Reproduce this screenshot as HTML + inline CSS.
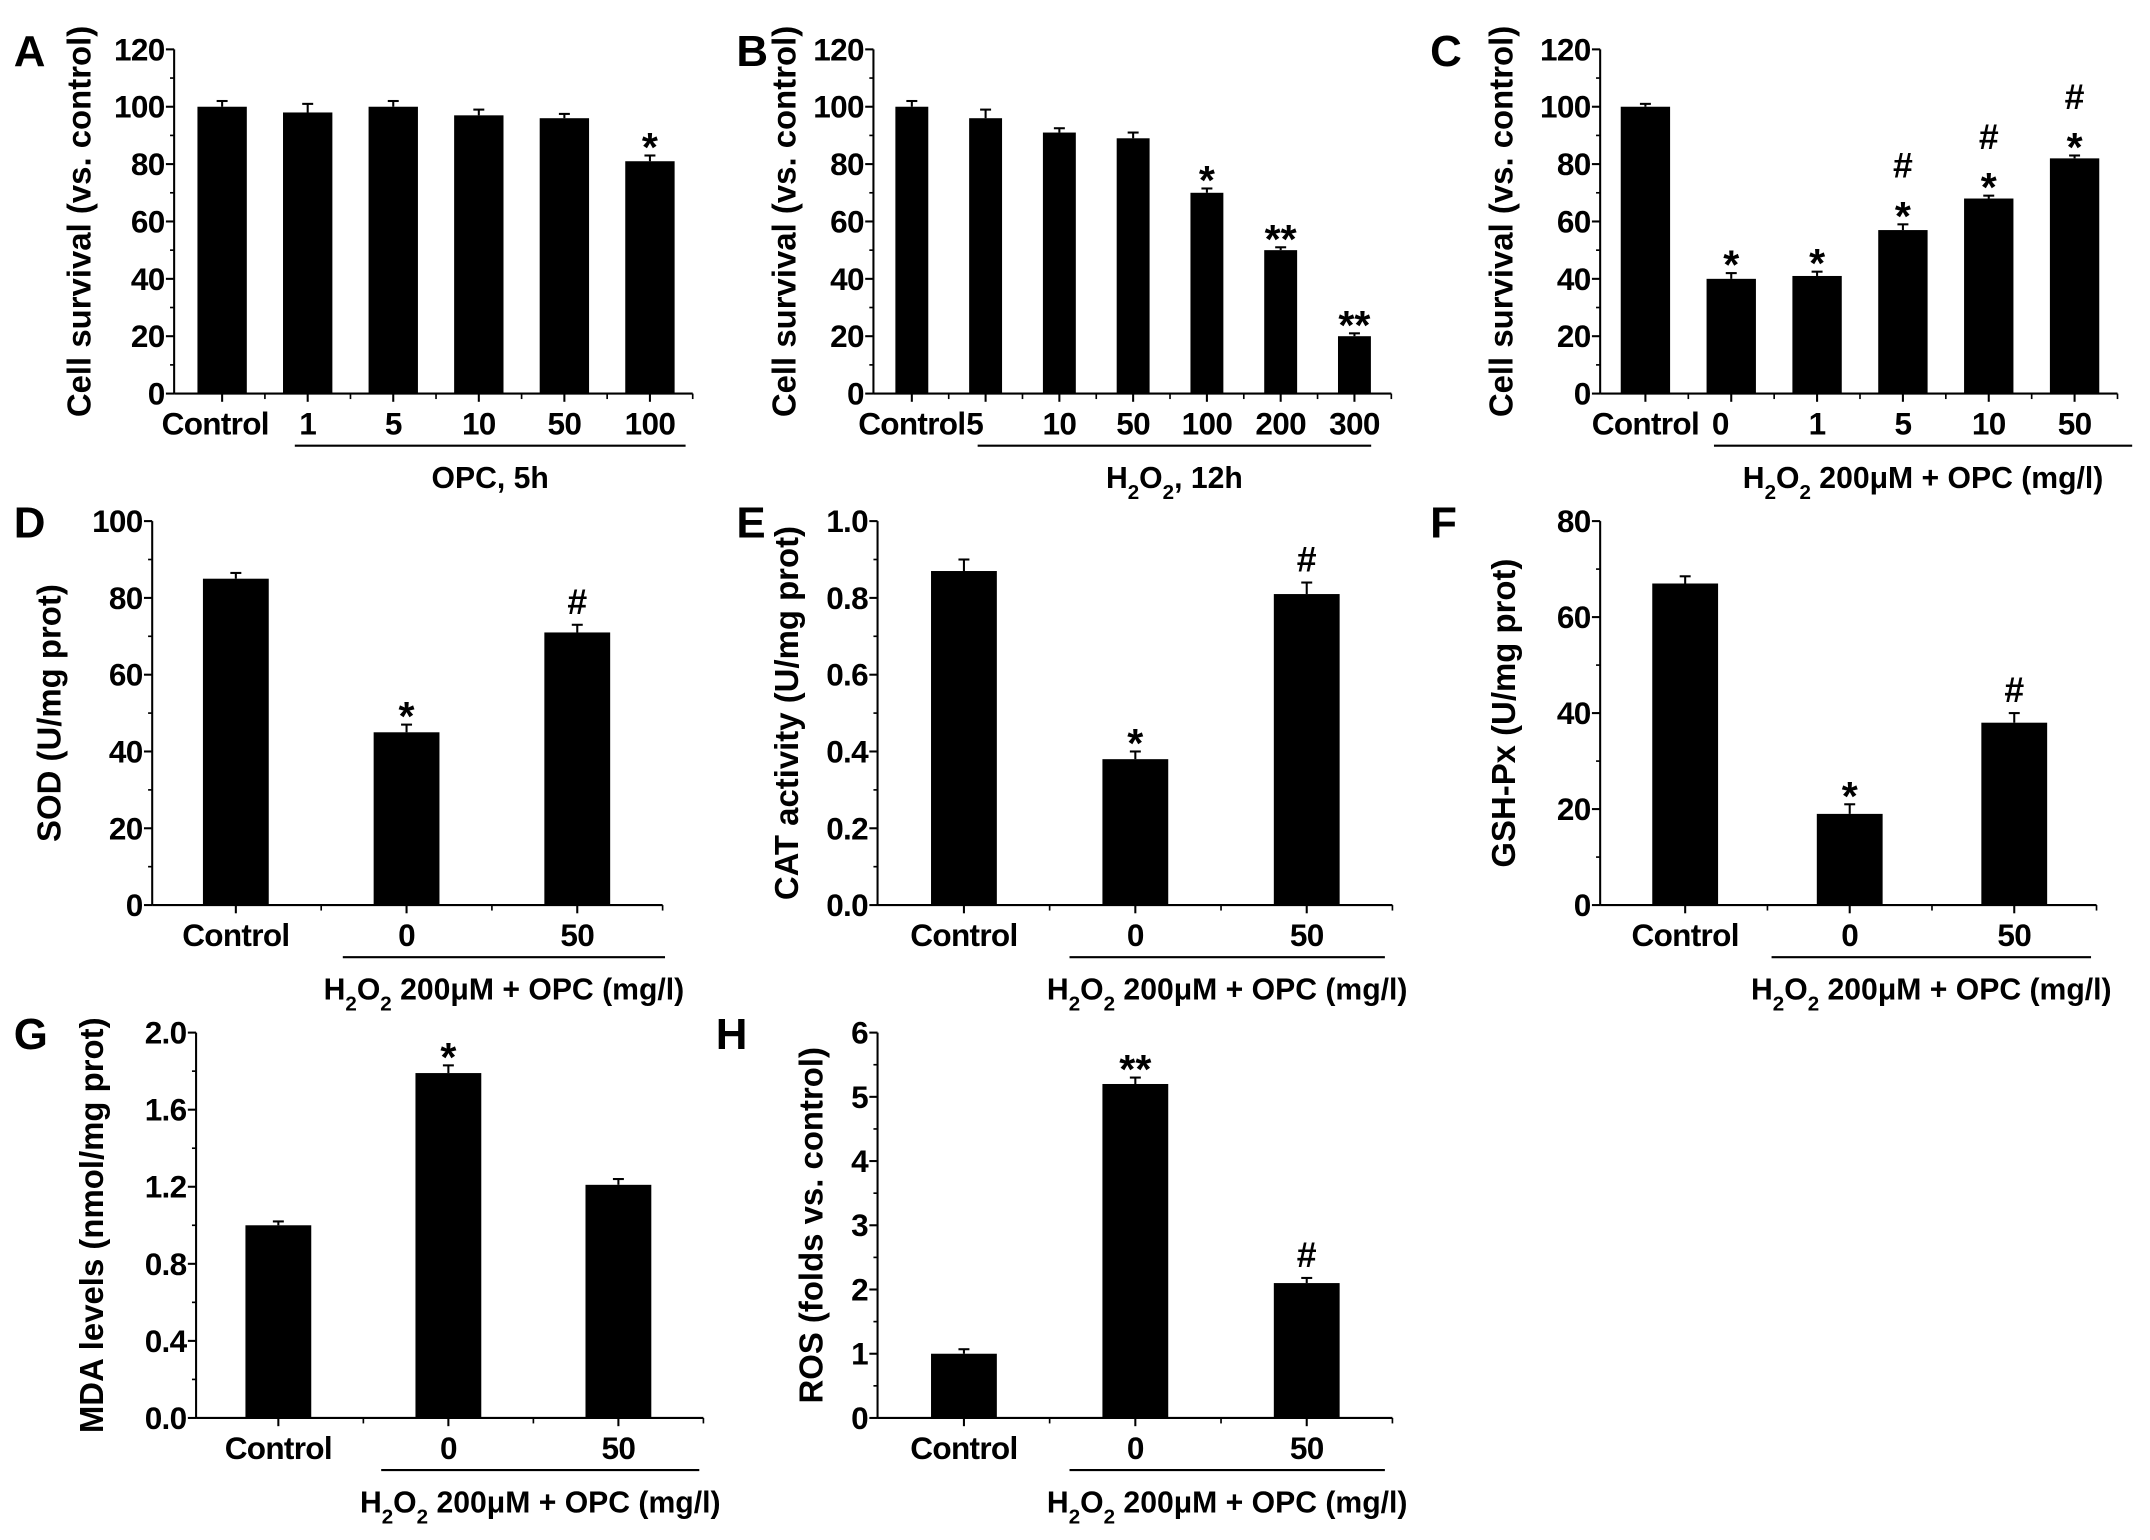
<!DOCTYPE html>
<html><head><meta charset="utf-8">
<style>
html,body{margin:0;padding:0;background:#fff;}
svg{display:block;}
text{font-family:"Liberation Sans",Arial,sans-serif;font-weight:bold;fill:#000;}
</style></head>
<body>
<svg id="fig" width="2150" height="1540" viewBox="0 0 1568 1123" preserveAspectRatio="none" xmlns="http://www.w3.org/2000/svg">
<rect x="0" y="0" width="1568" height="1123" fill="#fff"/>
</svg>
<script>
// ---- data ----
const aCats = ["Control","1","5","10","50","100"];
const aVals = [100,98,100,97,96,81];
const aErrs = [2,3,2,2,1.5,2];
const aMarks = ["","","","","","*"];
const bCats = ["Control","5","10","50","100","200","300"];
const bVals = [100,96,91,89,70,50,20];
const bErrs = [2,3,1.5,2,1.5,1,1];
const bMarks = ["","","","","*","**","**"];
const cCats = ["Control","0","1","5","10","50"];
const cVals = [100,40,41,57,68,82];
const cErrs = [1,2,1.5,2,1,1];
const cMarks = ["","*","*","#\n*","#\n*","#\n*"];
const dCats = ["Control","0","50"];
const dVals = [85,45,71];
const dErrs = [1.5,2,2];
const dMarks = ["","*","#"];
const eCats = ["Control","0","50"];
const eVals = [0.87,0.38,0.81];
const eErrs = [0.03,0.02,0.03];
const eMarks = ["","*","#"];
const fCats = ["Control","0","50"];
const fVals = [67,19,38];
const fErrs = [1.5,2,2];
const fMarks = ["","*","#"];
const gCats = ["Control","0","50"];
const gVals = [1.0,1.79,1.21];
const gErrs = [0.02,0.04,0.03];
const gMarks = ["","*",""];
const hCats = ["Control","0","50"];
const hVals = [1.0,5.2,2.1];
const hErrs = [0.07,0.1,0.08];
const hMarks = ["","**","#"];
const yTicksA = [0,20,40,60,80,100,120];
const yTicksD = [0,20,40,60,80,100];
const yTicksE = [0.0,0.2,0.4,0.6,0.8,1.0];
const yTicksF = [0,20,40,60,80];
const yTicksG = [0.0,0.4,0.8,1.2,1.6,2.0];
const yTicksH = [0,1,2,3,4,5,6];

const svg = document.getElementById('fig');
const NS = 'http://www.w3.org/2000/svg';
function mk(tag, attrs, parent){
  const e = document.createElementNS(NS, tag);
  for (const k in attrs) e.setAttribute(k, attrs[k]);
  (parent||svg).appendChild(e);
  return e;
}

function panel(p){
  const g = mk('g', {});
  
  
  const ymax = p.ticks[p.ticks.length-1];
  const yS = v => p.y0 - (v / ymax) * (p.y0 - p.yTop);
  const n = p.cats.length;
  const xS = i => p.x0 + p.first + i * p.step;
  const L = mk('text', {x:p.letter_x, y:p.yTop+12, 'font-size':32}, g);
  L.textContent = p.letter;
  
  
  const ya = mk('line', {x1:p.x0, y1:p.yTop, x2:p.x0, y2:p.y0, stroke:'#000', 'stroke-width':1.5}, g);
  
  
  const xEnd = xS(n-1) + p.step*0.5;
  const xa = mk('line', {x1:p.x0, y1:p.y0, x2:xEnd, y2:p.y0, stroke:'#000', 'stroke-width':1.5}, g);
  
  
  p.ticks.forEach((t, i) => {
    const y = yS(t);
    mk('line', {x1:p.x0-6, y1:y, x2:p.x0, y2:y, stroke:'#000', 'stroke-width':1.5}, g);
    if (i < p.ticks.length-1) {
      const ym = yS((t + p.ticks[i+1]) / 2);
      mk('line', {x1:p.x0-3, y1:ym, x2:p.x0, y2:ym, stroke:'#000', 'stroke-width':1.2}, g);
    }
    const tl = mk('text', {x:p.x0-7, y:y+8, 'font-size':23, 'text-anchor':'end', 'letter-spacing':'-0.5'}, g);
    tl.textContent = p.fmt ? t.toFixed(1) : String(t);
    
    
  });
  const yt = mk('text', {x:0, y:0, 'font-size':24, 'text-anchor':'middle', transform:`translate(${p.ytx},${(p.yTop+p.y0)/2}) rotate(-90)`}, g);
  yt.textContent = p.ytitle;
  
  
  p.cats.forEach((c, i) => {
    const cx = xS(i);
    mk('line', {x1:cx, y1:p.y0, x2:cx, y2:p.y0+6, stroke:'#000', 'stroke-width':1.5}, g);
    mk('line', {x1:cx+p.step/2, y1:p.y0, x2:cx+p.step/2, y2:p.y0+4, stroke:'#000', 'stroke-width':1.2}, g);
    const v = p.vals[i], e = p.errs[i];
    const top = yS(v);
    const eb = mk('line', {x1:cx, y1:top, x2:cx, y2:yS(v+e), stroke:'#000', 'stroke-width':1.5}, g);
    
    
    mk('line', {x1:cx-4, y1:yS(v+e), x2:cx+4, y2:yS(v+e), stroke:'#000', 'stroke-width':1.5}, g);
    const r = mk('rect', {x:cx-p.bw/2, y:top, width:p.bw, height:p.y0-top, fill:'#000'}, g);
    
    
    const lines = p.marks[i] ? p.marks[i].split('\n') : [];
    lines.reverse().forEach((m, k) => {
      const star = m.startsWith('*');
      const mt = mk('text', {x:cx, y:yS(v+e) - 8 - k*26 + (star?12:0), 'font-size':star?30:26, 'text-anchor':'middle'}, g);
      mt.textContent = m;
      
      
    });
    const xl = mk('text', {x:cx + (p.labelShift && p.labelShift[i] || 0), y:p.y0+30, 'font-size':23, 'text-anchor':'middle', 'letter-spacing':'-0.5'}, g);
    xl.textContent = c;
    
    
  });
  const ul = mk('line', {x1:p.ul[0], y1:p.y0+38, x2:p.ul[1], y2:p.y0+38, stroke:'#000', 'stroke-width':1.5}, g);
  
  
  const gl = mk('text', {x:(p.ul[0]+p.ul[1])/2, y:p.y0+69, 'font-size':22, 'text-anchor':'middle'}, g);
  
  
  if (p.h2o2) {
    gl.innerHTML = 'H<tspan dy="8" font-size="15">2</tspan><tspan dy="-8">O</tspan><tspan dy="8" font-size="15">2</tspan><tspan dy="-8">' + p.glabel + '</tspan>';
  } else gl.textContent = p.glabel;
}

const grp = " 200\u03bcM + OPC (mg/l)";
panel({letter:'A', letter_x:10, x0:127, y0:287, yTop:36, ticks:yTicksA, cats:aCats, vals:aVals, errs:aErrs, marks:aMarks, first:35, step:62.4, bw:36, ytx:66, ytitle:'Cell survival (vs. control)', ul:[215,500], glabel:'OPC, 5h', labelShift:[-5,0,0,0,0,0]});
panel({letter:'B', letter_x:537, x0:637, y0:287, yTop:36, ticks:yTicksA, cats:bCats, vals:bVals, errs:bErrs, marks:bMarks, first:28, step:53.8, bw:24, ytx:580, ytitle:'Cell survival (vs. control)', ul:[713,1000], glabel:', 12h', h2o2:true, labelShift:[0,-8,0,0,0,0,0]});
panel({letter:'C', letter_x:1043, x0:1167, y0:287, yTop:36, ticks:yTicksA, cats:cCats, vals:cVals, errs:cErrs, marks:cMarks, first:33, step:62.6, bw:36, ytx:1103, ytitle:'Cell survival (vs. control)', ul:[1250,1555], glabel:grp, h2o2:true, labelShift:[0,-8,0,0,0,0]});
panel({letter:'D', letter_x:10, x0:111, y0:660, yTop:380, ticks:yTicksD, cats:dCats, vals:dVals, errs:dErrs, marks:dMarks, first:61, step:124.5, bw:48, ytx:44, ytitle:'SOD (U/mg prot)', ul:[250,485], glabel:grp, h2o2:true});
panel({letter:'E', letter_x:537, x0:640, y0:660, yTop:380, ticks:yTicksE, fmt:true, cats:eCats, vals:eVals, errs:eErrs, marks:eMarks, first:63, step:125, bw:48, ytx:582, ytitle:'CAT activity (U/mg prot)', ul:[780,1010], glabel:grp, h2o2:true});
panel({letter:'F', letter_x:1043, x0:1167, y0:660, yTop:380, ticks:yTicksF, cats:fCats, vals:fVals, errs:fErrs, marks:fMarks, first:62, step:120, bw:48, ytx:1105, ytitle:'GSH-Px (U/mg prot)', ul:[1292,1525], glabel:grp, h2o2:true});
panel({letter:'G', letter_x:10, x0:143, y0:1034, yTop:753, ticks:yTicksG, fmt:true, cats:gCats, vals:gVals, errs:gErrs, marks:gMarks, first:60, step:124, bw:48, ytx:75, ytitle:'MDA levels (nmol/mg prot)', ul:[278,510], glabel:grp, h2o2:true});
panel({letter:'H', letter_x:522, x0:640, y0:1034, yTop:753, ticks:yTicksH, cats:hCats, vals:hVals, errs:hErrs, marks:hMarks, first:63, step:125, bw:48, ytx:600, ytitle:'ROS (folds vs. control)', ul:[780,1010], glabel:grp, h2o2:true});
</script>
</body></html>
